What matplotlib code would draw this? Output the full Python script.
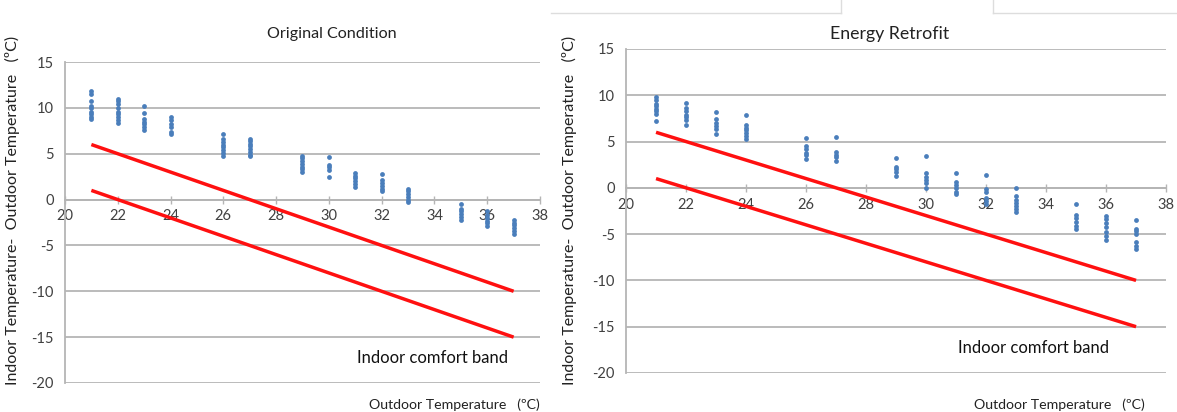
import matplotlib
matplotlib.use("Agg")
import matplotlib.pyplot as plt
from matplotlib.lines import Line2D

plt.rcParams['font.family'] = ['Lato', 'DejaVu Sans']

# data
orig_x = [21]*9 + [22]*9 + [23]*7 + [24]*6 + [26]*8 + [27]*8 + [29]*7 + [30]*5 + [31]*6 + [32]*6 + [33]*6 + [35]*6 + [36]*6 + [37]*6
orig_y = [11.8, 11.5, 10.8, 10.2, 10.0, 9.6, 9.3, 9.0, 8.8,
          11.0, 10.7, 10.4, 10.0, 9.6, 9.3, 9.0, 8.7, 8.4,
          10.2, 9.4, 8.8, 8.5, 8.2, 7.9, 7.6,
          9.0, 8.7, 8.2, 7.9, 7.4, 7.1,
          7.2, 6.6, 6.3, 6.0, 5.7, 5.4, 5.1, 4.8,
          6.6, 6.4, 6.1, 5.8, 5.5, 5.2, 4.9, 4.7,
          4.8, 4.5, 4.2, 3.9, 3.6, 3.3, 3.0,
          4.6, 3.8, 3.5, 3.2, 2.5,
          2.9, 2.6, 2.3, 2.0, 1.7, 1.4,
          2.8, 2.1, 1.8, 1.5, 1.2, 0.9,
          1.2, 0.9, 0.6, 0.3, 0.0, -0.3,
          -0.5, -1.0, -1.3, -1.6, -1.9, -2.2,
          -1.3, -1.7, -2.0, -2.3, -2.6, -2.9,
          -2.2, -2.5, -2.8, -3.1, -3.4, -3.7]

retro_x = [21]*8 + [22]*7 + [23]*6 + [24]*7 + [26]*6 + [27]*5 + [29]*5 + [30]*6 + [31]*6 + [32]*6 + [33]*7 + [35]*6 + [36]*7 + [37]*7
retro_y = [9.8, 9.5, 9.1, 8.8, 8.5, 8.3, 8.0, 7.2,
           9.2, 8.6, 8.3, 7.9, 7.6, 7.3, 6.8,
           8.2, 7.4, 7.0, 6.7, 6.4, 5.8,
           7.9, 6.8, 6.5, 6.2, 5.9, 5.6, 5.3,
           5.4, 4.5, 4.2, 3.8, 3.5, 3.1,
           5.5, 3.9, 3.6, 3.3, 2.9,
           3.2, 2.3, 2.0, 1.7, 1.3,
           3.4, 1.6, 1.2, 0.9, 0.5, 0.0,
           1.6, 0.6, 0.3, 0.0, -0.4, -0.7,
           1.4, -0.1, -0.5, -1.1, -1.4, -1.7,
           0.0, -0.9, -1.3, -1.6, -2.0, -2.3, -2.6,
           -1.7, -2.9, -3.3, -3.7, -4.1, -4.5,
           -3.0, -3.4, -3.8, -4.2, -4.8, -5.2, -5.6,
           -3.5, -4.4, -4.7, -5.0, -5.8, -6.3, -6.6]

band_x = [21, 37]
band_upper = [6, -10]
band_lower = [1, -15]

y_ticks = [15, 10, 5, 0, -5, -10, -15, -20]
x_ticks = [20, 22, 24, 26, 28, 30, 32, 34, 36, 38]

fig = plt.figure(figsize=(11.77, 4.12), dpi=100)

grid_c = '#b5b5b5'
text_c = '#404040'


def draw_panel(ax, xs, ys, title, title_x, title_y, title_size):
    for t in y_ticks:
        ax.axhline(t, color=grid_c, lw=1.3, zorder=1)
    ax.scatter(xs, ys, s=12, color='#4a7ebb', zorder=3, linewidths=0)
    ax.plot(band_x, band_upper, color='#ff1010', lw=2.5, zorder=4, solid_capstyle='butt')
    ax.plot(band_x, band_lower, color='#ff1010', lw=2.5, zorder=4, solid_capstyle='butt')
    ax.set_xlim(20, 38)
    ax.set_ylim(-20, 15)
    ax.set_yticks(y_ticks)
    ax.set_yticklabels([str(t) for t in y_ticks])
    ax.set_xticks(x_ticks)
    for s in ['top', 'right']:
        ax.spines[s].set_visible(False)
    ax.spines['bottom'].set_position(('data', 0))
    ax.spines['bottom'].set_color(grid_c)
    ax.spines['left'].set_color(grid_c)
    ax.spines['bottom'].set_linewidth(1.3)
    ax.spines['left'].set_linewidth(1.3)
    ax.tick_params(axis='y', length=0, labelsize=10.5, colors=text_c, pad=8)
    ax.tick_params(axis='x', direction='inout', length=6, width=1, color=grid_c,
                   labelsize=10.5, labelcolor=text_c, pad=4)
    ax.patch.set_alpha(0)
    ax.text(title_x, title_y, title, ha='center', va='center', fontsize=title_size, color='#222222')
    ax.text(31.05, -17.3, 'Indoor comfort band', ha='left', va='center',
            fontsize=12, color='#111111')


ax1 = fig.add_axes([0.0552, 0.0704, 0.4036, 0.7791])
draw_panel(ax1, orig_x, orig_y, 'Original Condition', 30.1, 18.1, 11.6)

ax2 = fig.add_axes([0.5319, 0.0947, 0.4588, 0.7864])
draw_panel(ax2, retro_x, retro_y, 'Energy Retrofit', 28.8, 16.6, 12.8)

ylab = 'Indoor Temperature-  Outdoor Temperature   (ºC)'
fig.text(0.011, 0.49, ylab, rotation=90, ha='center', va='center', fontsize=11.5, color='#222222')
fig.text(0.484, 0.49, ylab, rotation=90, ha='center', va='center', fontsize=11.5, color='#222222')

fig.text(0.459, 0.017, 'Outdoor Temperature   (ºC)', ha='right', va='center', fontsize=10.2, color='#222222')
fig.text(0.973, 0.017, 'Outdoor Temperature   (ºC)', ha='right', va='center', fontsize=10.2, color='#222222')

# faint frame lines along the top right
lc = '#dddddd'
fig.add_artist(Line2D([551/1177, 841/1177], [1 - 13/412, 1 - 13/412], color=lc, lw=1))
fig.add_artist(Line2D([841/1177, 841/1177], [1 - 13/412, 1.0], color=lc, lw=1))
fig.add_artist(Line2D([993/1177, 1.0], [1 - 13/412, 1 - 13/412], color=lc, lw=1))
fig.add_artist(Line2D([993/1177, 993/1177], [1 - 13/412, 1.0], color=lc, lw=1))

fig.savefig('out.png', dpi=100)
